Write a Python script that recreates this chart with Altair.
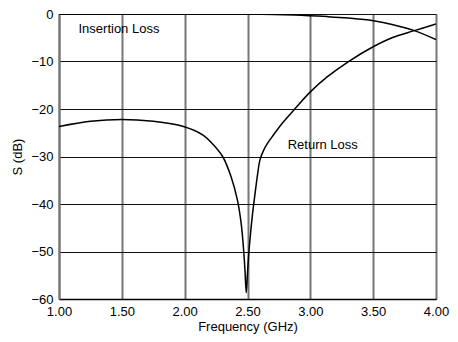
import altair as alt
import pandas as pd

# Return loss (S11) curve
rl_freq = [1.00, 1.25, 1.50, 1.75, 1.99, 2.146, 2.22, 2.302, 2.37, 2.42, 2.45, 2.47, 2.48, 2.49,
           2.50, 2.51, 2.525, 2.537, 2.563, 2.58, 2.60, 2.63, 2.66, 2.70, 2.78, 2.876, 3.00,
           3.136, 3.31, 3.50, 3.65, 3.828, 4.00]
rl_db = [-23.7, -22.6, -22.2, -22.6, -23.7, -25.5, -27.3, -30.0, -34.3, -39.2, -44.2, -50.0, -54.0, -58.7,
         -54.5, -50.5, -46.0, -42.8, -37.2, -33.8, -30.6, -28.6, -27.2, -25.7, -22.9, -20.0, -16.4,
         -13.2, -9.9, -6.9, -5.0, -3.5, -2.1]

# Insertion loss (S21) curve
il_freq = [1.00, 1.50, 2.00, 2.50, 2.876, 3.136, 3.30, 3.50, 3.65, 3.828, 4.00]
il_db = [0.0, 0.0, 0.0, 0.0, -0.2, -0.55, -0.85, -1.4, -2.2, -3.5, -5.4]

label_text = ["Insertion Loss", "Return Loss"]
label_x = [1.155, 2.82]
label_y = [-3.2, -27.6]

x_ticks = [1.0, 1.5, 2.0, 2.5, 3.0, 3.5, 4.0]
y_ticks = [0, -10, -20, -30, -40, -50, -60]

FONT = "Liberation Sans"
FS = 13

rl = pd.DataFrame({"f": rl_freq, "s": rl_db, "curve": "Return Loss"})
il = pd.DataFrame({"f": il_freq, "s": il_db, "curve": "Insertion Loss"})
lines_df = pd.concat([rl, il])
labels_df = pd.DataFrame({"f": label_x, "s": label_y, "t": label_text})

xscale = alt.Scale(domain=[1.0, 4.0], nice=False, zero=False)
yscale = alt.Scale(domain=[-60, 0], nice=False, zero=False)

xax = alt.Axis(values=x_ticks, format=".2f", title="Frequency (GHz)",
               grid=True, gridColor="#777777", gridWidth=2, gridOpacity=1,
               domainColor="#000000", domainWidth=1.5, ticks=False,
               labelPadding=6, labelFontSize=FS, labelFont=FONT, labelColor="#000",
               titleFont=FONT, titleFontSize=FS, titleFontWeight="normal", titleColor="#000",
               titlePadding=2, labelFlush=False)
yax = alt.Axis(values=y_ticks, format="d", title="S (dB)",
               grid=True, gridColor="#111111", gridWidth=1, gridOpacity=1,
               domainColor="#777777", domainWidth=2, ticks=False,
               labelPadding=6, labelFontSize=FS, labelFont=FONT, labelColor="#000",
               titleFont=FONT, titleFontSize=FS, titleFontWeight="normal", titleColor="#000",
               titlePadding=6, labelFlush=False)

lines = alt.Chart(lines_df).mark_line(color="black", strokeWidth=1.5, clip=True,
                                      interpolate="catmull-rom").encode(
    x=alt.X("f:Q", scale=xscale, axis=xax),
    y=alt.Y("s:Q", scale=yscale, axis=yax),
    detail="curve:N",
    order="f:Q",
)

texts = alt.Chart(labels_df).mark_text(align="left", baseline="middle", font=FONT,
                                       fontSize=FS, color="black").encode(
    x=alt.X("f:Q", scale=xscale),
    y=alt.Y("s:Q", scale=yscale),
    text="t:N",
)

chart = (lines + texts).properties(
    width=377, height=285,
    autosize=alt.AutoSizeParams(type="none"),
    padding={"left": 51, "top": 6, "right": 14, "bottom": 35},
).configure_view(stroke="#777777", strokeWidth=1)

chart.save("out.html", embed_options={"renderer": "svg", "actions": False})
